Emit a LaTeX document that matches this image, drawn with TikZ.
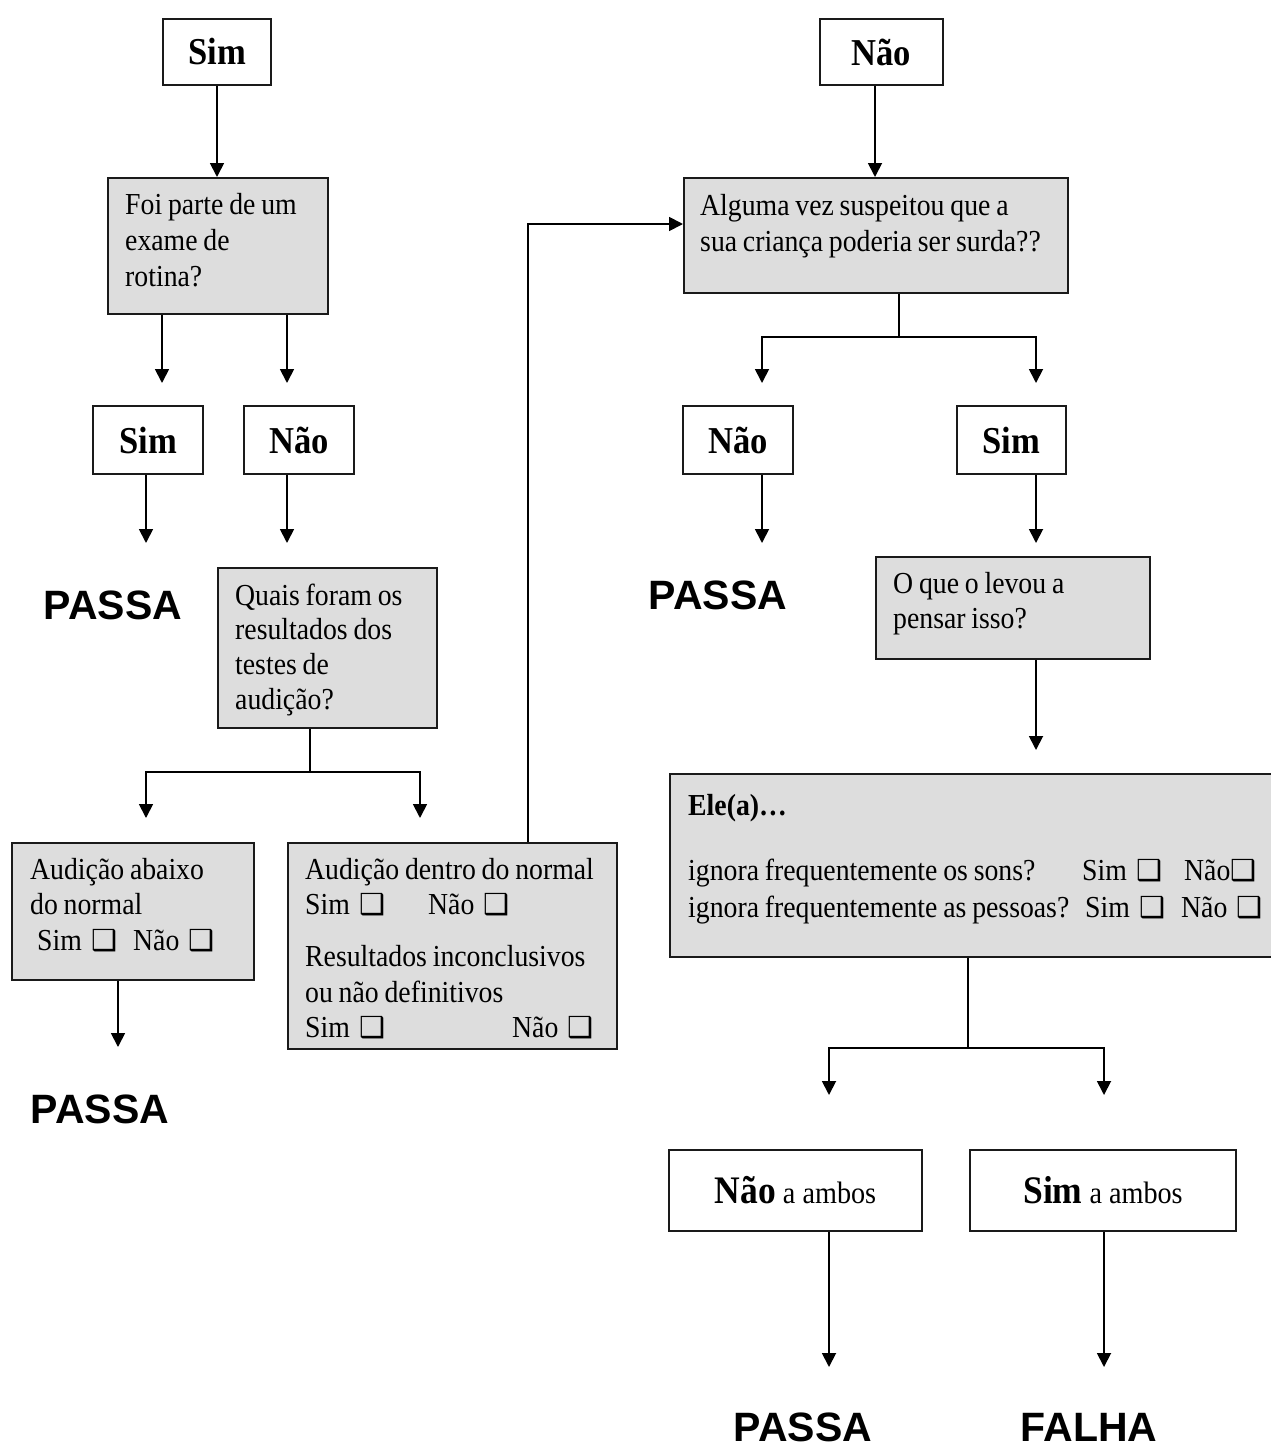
\documentclass[tikz,border=0pt]{standalone}
\usepackage{fontspec}
\setmainfont{Liberation Serif}[FakeStretch=0.91]
\newfontfamily\passafont{Liberation Sans}
\newfontfamily\symfont{DejaVu Sans}
\usetikzlibrary{arrows.meta}
\definecolor{boxgray}{HTML}{DDDDDD}
\definecolor{edge}{HTML}{1A1A1A}
% check box glyph used in the answer lines
\newcommand\cbxraw{{\symfont\fontsize{29}{29}\selectfont ❑}}
\newcommand\cbx{\hspace{3.5pt}\cbxraw}
\tikzset{
  qbox/.style={draw=edge, line width=1.8pt, fill=boxgray, inner sep=0pt, anchor=north west},
  ansbox/.style={draw=edge, line width=1.8pt, fill=white, inner sep=0pt,
    font=\fontsize{38}{40}\selectfont\bfseries},
  txt/.style={anchor=base west, inner sep=0pt, align=left, text width=#1,
    font=\fontsize{30.5}{35.5}\selectfont,
    execute at begin node={\spaceskip=5.8pt plus 1pt minus 1pt\relax}},
  result/.style={anchor=base, inner sep=0pt, font=\passafont\bfseries\fontsize{41}{41}\selectfont},
  arr/.style={draw=black, line width=1.8pt, -{Triangle[width=14pt,length=14pt]}},
  link/.style={draw=black, line width=1.8pt},
}
\begin{document}
\begin{tikzpicture}[x=1pt,y=-1pt]
\fill[white] (0,0) rectangle (1271,1448);
\useasboundingbox (0,0) rectangle (1271,1448);

% ---------- left branch ----------
\node[ansbox, minimum width=108pt, minimum height=66pt] (a0) at (217,52) {Sim};
\node[qbox, minimum width=220pt, minimum height=136pt] (q1) at (107,177) {};
\node[txt=200pt, font=\fontsize{30.5}{36}\selectfont] (t1) at (125,214) {Foi parte de um\\exame de\\rotina?};

\node[ansbox, minimum width=110pt, minimum height=68pt] (a1) at (148,440) {Sim};
\node[ansbox, minimum width=110pt, minimum height=68pt] (a2) at (299,440) {Não};

\node[result] (p1) at (113,619) {PASSA};

\node[qbox, minimum width=219pt, minimum height=160pt] (q2) at (217,567) {};
\node[txt=200pt, font=\fontsize{30.5}{34.7}\selectfont] (t2) at (235,605) {Quais foram os\\resultados dos\\testes de\\audição?};

\node[qbox, minimum width=242pt, minimum height=137pt] (r1) at (11,842) {};
\node[txt=220pt] (t3) at (30,879) {Audição abaixo\\do normal\\
  \hspace*{7pt}\makebox[96pt][l]{Sim \cbx}Não \cbx};

\node[qbox, minimum width=329pt, minimum height=206pt] (r2) at (287,842) {};
\node[txt=305pt] (t4) at (305,879) {Audição dentro do normal\\
  \makebox[123pt][l]{Sim \cbx}Não \cbx\\[16.5pt]
  Resultados inconclusivos\\ou não definitivos\\
  \makebox[207pt][l]{Sim \cbx}Não \cbx};

\node[result] (p2) at (100,1123) {PASSA};

% ---------- right branch ----------
\node[ansbox, minimum width=123pt, minimum height=66pt] (b0) at (881.5,52) {Não};
\node[qbox, minimum width=384pt, minimum height=115pt] (q3) at (683,177) {};
\node[txt=370pt, font=\fontsize{30.5}{36}\selectfont] (t5) at (700,215) {Alguma vez suspeitou que a\\sua criança poderia ser surda??};

\node[ansbox, minimum width=110pt, minimum height=68pt] (b1) at (738,440) {Não};
\node[ansbox, minimum width=109pt, minimum height=68pt] (b2) at (1011.5,440) {Sim};

\node[result] (p3) at (718,609) {PASSA};

\node[qbox, minimum width=274pt, minimum height=102pt] (q4) at (875,556) {};
\node[txt=250pt] (t6) at (893,593) {O que o levou a\\pensar isso?};

\node[qbox, minimum width=602pt, minimum height=183pt] (q5) at (669,773) {};
\node[txt=580pt] (t7) at (688,815) {\textbf{Ele(a)…}\\[29.5pt]
  \makebox[394pt][l]{ignora frequentemente os sons?}\makebox[102pt][l]{Sim \cbx}Não\cbxraw\\[1.5pt]
  \makebox[397pt][l]{ignora frequentemente as pessoas?}\makebox[96pt][l]{Sim \cbx}Não \cbx};

\node[ansbox, minimum width=253pt, minimum height=81pt, font=\fontsize{31}{33}\selectfont] (c1) at (795.5,1190.5)
  {{\bfseries\fontsize{39}{40}\selectfont Não} a ambos};
\node[ansbox, minimum width=266pt, minimum height=81pt, font=\fontsize{31}{33}\selectfont] (c2) at (1103,1190.5)
  {{\bfseries\fontsize{39}{40}\selectfont Sim} a ambos};

\node[result] (p4) at (803,1441) {PASSA};
\node[result] (f1) at (1089,1441) {FALHA};

% ---------- arrow end points and junctions ----------
\coordinate (k2) at (162,383);
\coordinate (k3) at (287,383);
\coordinate (k4) at (146,543);
\coordinate (k5) at (287,543);
\coordinate (j1) at (310,772);
\coordinate (k6) at (146,818);
\coordinate (k7) at (420,818);
\coordinate (k8) at (118,1047);
\coordinate (j2) at (528,224);
\coordinate (x9) at (875,0);
\coordinate (j3) at (899,337);
\coordinate (k10) at (762,383);
\coordinate (k11) at (1036,383);
\coordinate (k12) at (762,543);
\coordinate (k13) at (1036,543);
\coordinate (k14) at (1036,750);
\coordinate (j4) at (968,1048);
\coordinate (k15) at (829,1095);
\coordinate (k16) at (1104,1095);
\coordinate (k17) at (829,1367);
\coordinate (k18) at (1104,1367);

% ---------- connectors ----------
\draw[arr] (a0.south) -- (a0.south |- q1.north);
\draw[arr] (q1.south -| k2) -- (k2);
\draw[arr] (q1.south -| k3) -- (k3);
\draw[arr] (a1.south -| k4) -- (k4);
\draw[arr] (a2.south -| k5) -- (k5);
\draw[link] (q2.south -| j1) -- (j1);
\draw[arr] (j1) -| (k6);
\draw[arr] (j1) -| (k7);
\draw[arr] (r1.south -| k8) -- (k8);
\draw[arr] (r2.north -| j2) |- (q3.west |- j2);

\draw[arr] (b0.south -| x9) -- (q3.north -| x9);
\draw[link] (q3.south -| j3) -- (j3);
\draw[arr] (j3) -| (k10);
\draw[arr] (j3) -| (k11);
\draw[arr] (b1.south -| k12) -- (k12);
\draw[arr] (b2.south -| k13) -- (k13);
\draw[arr] (q4.south -| k14) -- (k14);
\draw[link] (q5.south -| j4) -- (j4);
\draw[arr] (j4) -| (k15);
\draw[arr] (j4) -| (k16);
\draw[arr] (c1.south -| k17) -- (k17);
\draw[arr] (c2.south -| k18) -- (k18);
\end{tikzpicture}
\end{document}
